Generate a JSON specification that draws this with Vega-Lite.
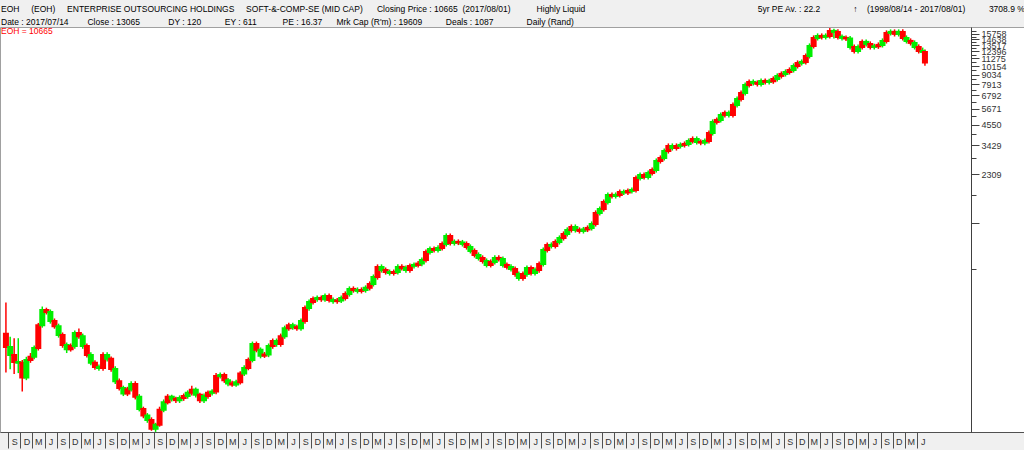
{
"$schema": "https://vega.github.io/schema/vega-lite/v6.json",
"width": 1024, "height": 405,
"autosize": {"type": "none"},
"padding": {"left": 0, "top": 27, "right": 0, "bottom": 18},
"background": "#f0f0f0",
"config": {"view": {"fill": "#ffffff", "stroke": "#a0a0a0"}, "font": "Liberation Sans"},
"title": {
  "text": ["EOH\u00a0\u00a0\u00a0\u00a0\u00a0(EOH)\u00a0\u00a0\u00a0\u00a0\u00a0ENTERPRISE OUTSOURCING HOLDINGS\u00a0\u00a0\u00a0\u00a0\u00a0SOFT-&-COMP-SE (MID CAP)\u00a0\u00a0\u00a0\u00a0\u00a0\u00a0Closing Price : 10665\u00a0\u00a0(2017/08/01)\u00a0\u00a0\u00a0\u00a0\u00a0\u00a0\u00a0\u00a0\u00a0\u00a0\u00a0Highly Liquid\u00a0\u00a0\u00a0\u00a0\u00a0\u00a0\u00a0\u00a0\u00a0\u00a0\u00a0\u00a0\u00a0\u00a0\u00a0\u00a0\u00a0\u00a0\u00a0\u00a0\u00a0\u00a0\u00a0\u00a0\u00a0\u00a0\u00a0\u00a0\u00a0\u00a0\u00a0\u00a0\u00a0\u00a0\u00a0\u00a0\u00a0\u00a0\u00a0\u00a0\u00a0\u00a0\u00a0\u00a0\u00a0\u00a0\u00a0\u00a0\u00a0\u00a0\u00a0\u00a0\u00a0\u00a0\u00a0\u00a0\u00a0\u00a0\u00a0\u00a0\u00a0\u00a0\u00a0\u00a0\u00a0\u00a0\u00a0\u00a0\u00a0\u00a0\u00a0\u00a0\u00a05yr PE Av. : 22.2\u00a0\u00a0\u00a0\u00a0\u00a0\u00a0\u00a0\u00a0\u00a0\u00a0\u00a0\u00a0\u00a0\u00a0\u2191\u00a0\u00a0\u00a0\u00a0(1998/08/14 - 2017/08/01)\u00a0\u00a0\u00a0\u00a0\u00a0\u00a0\u00a0\u00a0\u00a0\u00a03708.9 %",
           "Date : 2017/07/14\u00a0\u00a0\u00a0\u00a0\u00a0\u00a0\u00a0\u00a0Close : 13065\u00a0\u00a0\u00a0\u00a0\u00a0\u00a0\u00a0\u00a0\u00a0\u00a0\u00a0\u00a0DY : 120\u00a0\u00a0\u00a0\u00a0\u00a0\u00a0\u00a0\u00a0\u00a0\u00a0EY : 611\u00a0\u00a0\u00a0\u00a0\u00a0\u00a0\u00a0\u00a0\u00a0\u00a0\u00a0PE : 16.37\u00a0\u00a0\u00a0\u00a0\u00a0\u00a0Mrk Cap (R'm) : 19609\u00a0\u00a0\u00a0\u00a0\u00a0\u00a0\u00a0\u00a0\u00a0\u00a0Deals : 1087\u00a0\u00a0\u00a0\u00a0\u00a0\u00a0\u00a0\u00a0\u00a0\u00a0\u00a0\u00a0\u00a0\u00a0Daily (Rand)"],
  "subtitle": "EOH = 10665",
  "anchor": "start", "frame": "group", "orient": "top", "offset": -8, "dx": 1,
  "font": "Liberation Sans", "fontSize": 8.5, "fontWeight": "normal", "color": "#000000", "lineHeight": 13,
  "subtitleFont": "Liberation Sans", "subtitleFontSize": 8.5, "subtitleColor": "#ff0000", "subtitlePadding": 0
},
"data": {"values": [
{"d":"1998-08-14","o":260,"h":400,"l":153,"c":217},
{"d":"1998-09-15","o":195,"h":250,"l":160,"c":217},
{"d":"1998-10-15","o":195,"h":245,"l":150,"c":177},
{"d":"1998-11-15","o":175,"h":245,"l":152,"c":177},
{"d":"1998-12-15","o":175,"h":182,"l":118,"c":143},
{"d":"1999-01-15","o":143,"h":190,"l":138,"c":182},
{"d":"1999-02-15","o":190,"h":200,"l":175,"c":182},
{"d":"1999-03-15","o":190,"h":222,"l":184,"c":214},
{"d":"1999-04-15","o":293,"h":302,"l":207,"c":214},
{"d":"1999-05-15","o":293,"h":378,"l":283,"c":361},
{"d":"1999-06-15","o":361,"h":372,"l":339,"c":351},
{"d":"1999-07-15","o":310,"h":363,"l":299,"c":351},
{"d":"1999-08-15","o":310,"h":321,"l":279,"c":289},
{"d":"1999-09-15","o":256,"h":299,"l":247,"c":289},
{"d":"1999-10-15","o":256,"h":265,"l":215,"c":223},
{"d":"1999-11-15","o":211,"h":231,"l":200,"c":223},
{"d":"1999-12-15","o":220,"h":228,"l":204,"c":211},
{"d":"2000-01-15","o":220,"h":272,"l":212,"c":263},
{"d":"2000-02-15","o":263,"h":280,"l":243,"c":252},
{"d":"2000-03-15","o":220,"h":261,"l":212,"c":252},
{"d":"2000-04-15","o":220,"h":228,"l":188,"c":195},
{"d":"2000-05-15","o":175,"h":202,"l":169,"c":195},
{"d":"2000-06-15","o":175,"h":181,"l":159,"c":165},
{"d":"2000-07-15","o":163,"h":171,"l":157,"c":165},
{"d":"2000-08-15","o":195,"h":202,"l":157,"c":163},
{"d":"2000-09-15","o":185,"h":202,"l":178,"c":195},
{"d":"2000-10-15","o":185,"h":191,"l":155,"c":161},
{"d":"2000-11-15","o":136,"h":167,"l":131,"c":161},
{"d":"2000-12-15","o":136,"h":141,"l":120,"c":124},
{"d":"2001-01-15","o":115,"h":128,"l":111,"c":124},
{"d":"2001-02-15","o":122,"h":126,"l":111,"c":115},
{"d":"2001-03-15","o":122,"h":136,"l":118,"c":131},
{"d":"2001-04-15","o":131,"h":136,"l":106,"c":110},
{"d":"2001-05-15","o":93,"h":114,"l":90,"c":110},
{"d":"2001-06-15","o":93,"h":96,"l":82,"c":85},
{"d":"2001-07-15","o":80,"h":88,"l":77,"c":85},
{"d":"2001-08-15","o":80,"h":83,"l":69,"c":71},
{"d":"2001-09-15","o":71,"h":77,"l":68,"c":75},
{"d":"2001-10-15","o":92,"h":96,"l":73,"c":75},
{"d":"2001-11-15","o":92,"h":106,"l":89,"c":102},
{"d":"2001-12-15","o":110,"h":114,"l":99,"c":102},
{"d":"2002-01-15","o":107,"h":113,"l":103,"c":110},
{"d":"2002-02-15","o":107,"h":110,"l":101,"c":105},
{"d":"2002-03-15","o":105,"h":112,"l":101,"c":108},
{"d":"2002-04-15","o":111,"h":115,"l":104,"c":108},
{"d":"2002-05-15","o":111,"h":120,"l":107,"c":116},
{"d":"2002-06-15","o":121,"h":128,"l":112,"c":116},
{"d":"2002-07-15","o":113,"h":125,"l":109,"c":121},
{"d":"2002-08-15","o":113,"h":116,"l":101,"c":105},
{"d":"2002-09-15","o":105,"h":115,"l":101,"c":111},
{"d":"2002-10-15","o":116,"h":120,"l":107,"c":111},
{"d":"2002-11-15","o":116,"h":122,"l":112,"c":118},
{"d":"2002-12-15","o":146,"h":152,"l":114,"c":118},
{"d":"2003-01-15","o":146,"h":153,"l":141,"c":148},
{"d":"2003-02-15","o":148,"h":153,"l":133,"c":138},
{"d":"2003-03-15","o":132,"h":142,"l":127,"c":138},
{"d":"2003-04-15","o":132,"h":137,"l":126,"c":130},
{"d":"2003-05-15","o":130,"h":139,"l":126,"c":134},
{"d":"2003-06-15","o":151,"h":156,"l":130,"c":134},
{"d":"2003-07-15","o":151,"h":169,"l":146,"c":163},
{"d":"2003-08-15","o":182,"h":188,"l":158,"c":163},
{"d":"2003-09-15","o":182,"h":234,"l":176,"c":226},
{"d":"2003-10-15","o":226,"h":234,"l":202,"c":209},
{"d":"2003-11-15","o":193,"h":216,"l":186,"c":209},
{"d":"2003-12-15","o":196,"h":203,"l":187,"c":193},
{"d":"2004-01-15","o":196,"h":228,"l":189,"c":220},
{"d":"2004-02-15","o":236,"h":244,"l":212,"c":220},
{"d":"2004-03-15","o":226,"h":244,"l":218,"c":236},
{"d":"2004-04-15","o":252,"h":261,"l":218,"c":226},
{"d":"2004-05-15","o":252,"h":291,"l":243,"c":281},
{"d":"2004-06-15","o":293,"h":303,"l":271,"c":281},
{"d":"2004-07-15","o":285,"h":303,"l":275,"c":293},
{"d":"2004-08-15","o":285,"h":295,"l":271,"c":281},
{"d":"2004-09-15","o":281,"h":321,"l":271,"c":310},
{"d":"2004-10-15","o":370,"h":383,"l":299,"c":310},
{"d":"2004-11-15","o":370,"h":416,"l":357,"c":402},
{"d":"2004-12-15","o":419,"h":434,"l":388,"c":402},
{"d":"2005-01-15","o":419,"h":440,"l":404,"c":425},
{"d":"2005-02-15","o":425,"h":440,"l":403,"c":418},
{"d":"2005-03-15","o":418,"h":452,"l":403,"c":437},
{"d":"2005-04-15","o":437,"h":452,"l":399,"c":413},
{"d":"2005-05-15","o":407,"h":427,"l":393,"c":413},
{"d":"2005-06-15","o":410,"h":424,"l":393,"c":407},
{"d":"2005-07-15","o":410,"h":440,"l":396,"c":425},
{"d":"2005-08-15","o":449,"h":465,"l":410,"c":425},
{"d":"2005-09-15","o":449,"h":498,"l":433,"c":481},
{"d":"2005-10-15","o":481,"h":498,"l":457,"c":474},
{"d":"2005-11-15","o":468,"h":491,"l":452,"c":474},
{"d":"2005-12-15","o":474,"h":491,"l":452,"c":468},
{"d":"2006-01-15","o":474,"h":505,"l":457,"c":488},
{"d":"2006-02-15","o":515,"h":533,"l":471,"c":488},
{"d":"2006-03-15","o":515,"h":586,"l":497,"c":566},
{"d":"2006-04-15","o":650,"h":673,"l":546,"c":566},
{"d":"2006-05-15","o":623,"h":673,"l":601,"c":650},
{"d":"2006-06-15","o":623,"h":645,"l":585,"c":606},
{"d":"2006-07-15","o":598,"h":627,"l":577,"c":606},
{"d":"2006-08-15","o":606,"h":627,"l":577,"c":598},
{"d":"2006-09-15","o":606,"h":673,"l":585,"c":650},
{"d":"2006-10-15","o":650,"h":673,"l":619,"c":641},
{"d":"2006-11-15","o":623,"h":663,"l":601,"c":641},
{"d":"2006-12-15","o":659,"h":682,"l":601,"c":623},
{"d":"2007-01-15","o":659,"h":691,"l":636,"c":668},
{"d":"2007-02-15","o":680,"h":704,"l":645,"c":668},
{"d":"2007-03-15","o":680,"h":740,"l":656,"c":715},
{"d":"2007-04-15","o":798,"h":826,"l":690,"c":715},
{"d":"2007-05-15","o":798,"h":860,"l":770,"c":831},
{"d":"2007-06-15","o":831,"h":860,"l":791,"c":820},
{"d":"2007-07-15","o":820,"h":873,"l":791,"c":843},
{"d":"2007-08-15","o":890,"h":921,"l":814,"c":843},
{"d":"2007-09-15","o":890,"h":1028,"l":859,"c":993},
{"d":"2007-10-15","o":993,"h":1028,"l":870,"c":902},
{"d":"2007-11-15","o":902,"h":947,"l":870,"c":915},
{"d":"2007-12-15","o":915,"h":947,"l":876,"c":908},
{"d":"2008-01-15","o":890,"h":940,"l":859,"c":908},
{"d":"2008-02-15","o":890,"h":921,"l":824,"c":854},
{"d":"2008-03-15","o":809,"h":884,"l":781,"c":854},
{"d":"2008-04-15","o":809,"h":837,"l":739,"c":766},
{"d":"2008-05-15","o":735,"h":793,"l":709,"c":766},
{"d":"2008-06-15","o":735,"h":761,"l":680,"c":705},
{"d":"2008-07-15","o":668,"h":730,"l":645,"c":705},
{"d":"2008-08-15","o":696,"h":720,"l":645,"c":668},
{"d":"2008-09-15","o":696,"h":761,"l":672,"c":735},
{"d":"2008-10-15","o":735,"h":761,"l":700,"c":725},
{"d":"2008-11-15","o":668,"h":750,"l":645,"c":725},
{"d":"2008-12-15","o":668,"h":691,"l":627,"c":650},
{"d":"2009-01-15","o":632,"h":673,"l":610,"c":650},
{"d":"2009-02-15","o":632,"h":654,"l":569,"c":590},
{"d":"2009-03-15","o":558,"h":611,"l":538,"c":590},
{"d":"2009-04-15","o":590,"h":611,"l":538,"c":558},
{"d":"2009-05-15","o":590,"h":663,"l":569,"c":641},
{"d":"2009-06-15","o":641,"h":663,"l":577,"c":598},
{"d":"2009-07-15","o":598,"h":645,"l":577,"c":623},
{"d":"2009-08-15","o":677,"h":701,"l":601,"c":623},
{"d":"2009-09-15","o":677,"h":849,"l":653,"c":820},
{"d":"2009-10-15","o":878,"h":909,"l":791,"c":820},
{"d":"2009-11-15","o":866,"h":909,"l":836,"c":878},
{"d":"2009-12-15","o":915,"h":947,"l":836,"c":866},
{"d":"2010-01-15","o":915,"h":1000,"l":883,"c":966},
{"d":"2010-02-15","o":1021,"h":1057,"l":932,"c":966},
{"d":"2010-03-15","o":1021,"h":1116,"l":985,"c":1078},
{"d":"2010-04-15","o":1123,"h":1162,"l":1040,"c":1078},
{"d":"2010-05-15","o":1078,"h":1162,"l":1040,"c":1123},
{"d":"2010-06-15","o":1078,"h":1116,"l":1026,"c":1063},
{"d":"2010-07-15","o":1063,"h":1123,"l":1026,"c":1085},
{"d":"2010-08-15","o":1108,"h":1147,"l":1047,"c":1085},
{"d":"2010-09-15","o":1108,"h":1211,"l":1069,"c":1170},
{"d":"2010-10-15","o":1360,"h":1408,"l":1129,"c":1170},
{"d":"2010-11-15","o":1360,"h":1486,"l":1312,"c":1436},
{"d":"2010-12-15","o":1580,"h":1635,"l":1386,"c":1436},
{"d":"2011-01-15","o":1580,"h":1801,"l":1525,"c":1740},
{"d":"2011-02-15","o":1740,"h":1801,"l":1656,"c":1716},
{"d":"2011-03-15","o":1716,"h":1801,"l":1656,"c":1740},
{"d":"2011-04-15","o":1813,"h":1876,"l":1679,"c":1740},
{"d":"2011-05-15","o":1800,"h":1876,"l":1737,"c":1813},
{"d":"2011-06-15","o":1838,"h":1902,"l":1737,"c":1800},
{"d":"2011-07-15","o":1838,"h":1928,"l":1774,"c":1863},
{"d":"2011-08-15","o":2195,"h":2272,"l":1798,"c":1863},
{"d":"2011-09-15","o":2195,"h":2367,"l":2118,"c":2287},
{"d":"2011-10-15","o":2287,"h":2367,"l":2147,"c":2225},
{"d":"2011-11-15","o":2225,"h":2433,"l":2147,"c":2351},
{"d":"2011-12-15","o":2449,"h":2535,"l":2269,"c":2351},
{"d":"2012-01-15","o":2449,"h":2867,"l":2363,"c":2770},
{"d":"2012-02-15","o":2887,"h":2988,"l":2673,"c":2770},
{"d":"2012-03-15","o":2887,"h":3288,"l":2786,"c":3177},
{"d":"2012-04-15","o":3402,"h":3521,"l":3066,"c":3177},
{"d":"2012-05-15","o":3310,"h":3521,"l":3194,"c":3402},
{"d":"2012-06-15","o":3402,"h":3521,"l":3194,"c":3310},
{"d":"2012-07-15","o":3402,"h":3570,"l":3283,"c":3449},
{"d":"2012-08-15","o":3496,"h":3618,"l":3328,"c":3449},
{"d":"2012-09-15","o":3496,"h":3770,"l":3374,"c":3643},
{"d":"2012-10-15","o":3745,"h":3876,"l":3515,"c":3643},
{"d":"2012-11-15","o":3593,"h":3876,"l":3467,"c":3745},
{"d":"2012-12-15","o":3593,"h":3719,"l":3435,"c":3560},
{"d":"2013-01-15","o":3560,"h":3770,"l":3435,"c":3643},
{"d":"2013-02-15","o":4065,"h":4207,"l":3515,"c":3643},
{"d":"2013-03-15","o":4065,"h":4890,"l":3923,"c":4725},
{"d":"2013-04-15","o":4856,"h":5026,"l":4560,"c":4725},
{"d":"2013-05-15","o":4856,"h":5382,"l":4686,"c":5200},
{"d":"2013-06-15","o":5344,"h":5531,"l":5018,"c":5200},
{"d":"2013-07-15","o":5200,"h":5531,"l":5018,"c":5344},
{"d":"2013-08-15","o":5963,"h":6172,"l":5018,"c":5200},
{"d":"2013-09-15","o":5963,"h":6700,"l":5754,"c":6473},
{"d":"2013-10-15","o":7027,"h":7273,"l":6246,"c":6473},
{"d":"2013-11-15","o":7027,"h":8114,"l":6781,"c":7840},
{"d":"2013-12-15","o":8168,"h":8454,"l":7566,"c":7840},
{"d":"2014-01-15","o":8057,"h":8454,"l":7775,"c":8168},
{"d":"2014-02-15","o":8057,"h":8339,"l":7670,"c":7948},
{"d":"2014-03-15","o":7948,"h":8571,"l":7670,"c":8281},
{"d":"2014-04-15","o":8281,"h":8571,"l":7882,"c":8168},
{"d":"2014-05-15","o":8168,"h":8539,"l":7882,"c":8250},
{"d":"2014-06-15","o":8510,"h":8808,"l":7961,"c":8250},
{"d":"2014-07-15","o":8510,"h":9177,"l":8212,"c":8867},
{"d":"2014-08-15","o":9112,"h":9431,"l":8557,"c":8867},
{"d":"2014-09-15","o":9112,"h":9693,"l":8793,"c":9365},
{"d":"2014-10-15","o":9625,"h":9962,"l":9037,"c":9365},
{"d":"2014-11-15","o":9625,"h":10523,"l":9288,"c":10167},
{"d":"2014-12-15","o":10593,"h":10964,"l":9811,"c":10167},
{"d":"2015-01-15","o":10593,"h":11115,"l":10222,"c":10739},
{"d":"2015-02-15","o":11658,"h":12066,"l":10363,"c":10739},
{"d":"2015-03-15","o":11658,"h":13836,"l":11250,"c":13368},
{"d":"2015-04-15","o":14917,"h":15439,"l":12900,"c":13368},
{"d":"2015-05-15","o":14917,"h":15868,"l":14395,"c":15331},
{"d":"2015-06-15","o":15331,"h":15868,"l":14594,"c":15123},
{"d":"2015-07-15","o":15123,"h":15868,"l":14594,"c":15331},
{"d":"2015-08-15","o":16417,"h":17100,"l":14794,"c":15331},
{"d":"2015-09-15","o":16194,"h":16900,"l":14800,"c":16417},
{"d":"2015-10-15","o":16194,"h":16761,"l":14594,"c":15123},
{"d":"2015-11-15","o":14917,"h":15652,"l":14395,"c":15123},
{"d":"2015-12-15","o":14917,"h":15439,"l":14282,"c":14800},
{"d":"2016-01-15","o":13187,"h":15318,"l":12725,"c":14800},
{"d":"2016-02-15","o":13187,"h":13649,"l":12046,"c":12483},
{"d":"2016-03-15","o":12483,"h":13649,"l":12046,"c":13187},
{"d":"2016-04-15","o":14120,"h":14614,"l":12725,"c":13187},
{"d":"2016-05-15","o":13739,"h":14614,"l":13258,"c":14120},
{"d":"2016-06-15","o":13739,"h":14220,"l":12725,"c":13187},
{"d":"2016-07-15","o":13187,"h":13766,"l":12725,"c":13300},
{"d":"2016-08-15","o":13553,"h":14027,"l":12835,"c":13300},
{"d":"2016-09-15","o":13553,"h":14816,"l":13079,"c":14315},
{"d":"2016-10-15","o":15974,"h":16533,"l":13814,"c":14315},
{"d":"2016-11-15","o":15974,"h":16761,"l":15415,"c":16194},
{"d":"2016-12-15","o":16194,"h":16761,"l":15206,"c":15758},
{"d":"2017-01-15","o":15758,"h":16761,"l":15206,"c":16194},
{"d":"2017-02-15","o":16194,"h":16761,"l":14395,"c":14917},
{"d":"2017-03-15","o":14315,"h":15439,"l":13814,"c":14917},
{"d":"2017-04-15","o":14315,"h":14816,"l":13441,"c":13929},
{"d":"2017-05-15","o":13187,"h":14416,"l":12725,"c":13929},
{"d":"2017-06-15","o":13187,"h":13649,"l":12046,"c":12483},
{"d":"2017-07-15","o":12313,"h":13065,"l":11882,"c":12483},
{"d":"2017-08-01","o":12313,"h":12744,"l":10200,"c":10665}
]},
"encoding": {
  "x": {"field": "d", "type": "temporal",
    "scale": {"type": "utc", "nice": false, "domain": [{"year":1998,"month":8,"date":7,"utc":true},{"year":2019,"month":7,"date":11,"utc":true}]},
    "axis": {"orient": "bottom", "title": null, "grid": false,
      "values": [
{"year":1998,"month":9,"date":1,"utc":true},{"year":1998,"month":12,"date":1,"utc":true},
{"year":1999,"month":3,"date":1,"utc":true},{"year":1999,"month":6,"date":1,"utc":true},{"year":1999,"month":9,"date":1,"utc":true},{"year":1999,"month":12,"date":1,"utc":true},
{"year":2000,"month":3,"date":1,"utc":true},{"year":2000,"month":6,"date":1,"utc":true},{"year":2000,"month":9,"date":1,"utc":true},{"year":2000,"month":12,"date":1,"utc":true},
{"year":2001,"month":3,"date":1,"utc":true},{"year":2001,"month":6,"date":1,"utc":true},{"year":2001,"month":9,"date":1,"utc":true},{"year":2001,"month":12,"date":1,"utc":true},
{"year":2002,"month":3,"date":1,"utc":true},{"year":2002,"month":6,"date":1,"utc":true},{"year":2002,"month":9,"date":1,"utc":true},{"year":2002,"month":12,"date":1,"utc":true},
{"year":2003,"month":3,"date":1,"utc":true},{"year":2003,"month":6,"date":1,"utc":true},{"year":2003,"month":9,"date":1,"utc":true},{"year":2003,"month":12,"date":1,"utc":true},
{"year":2004,"month":3,"date":1,"utc":true},{"year":2004,"month":6,"date":1,"utc":true},{"year":2004,"month":9,"date":1,"utc":true},{"year":2004,"month":12,"date":1,"utc":true},
{"year":2005,"month":3,"date":1,"utc":true},{"year":2005,"month":6,"date":1,"utc":true},{"year":2005,"month":9,"date":1,"utc":true},{"year":2005,"month":12,"date":1,"utc":true},
{"year":2006,"month":3,"date":1,"utc":true},{"year":2006,"month":6,"date":1,"utc":true},{"year":2006,"month":9,"date":1,"utc":true},{"year":2006,"month":12,"date":1,"utc":true},
{"year":2007,"month":3,"date":1,"utc":true},{"year":2007,"month":6,"date":1,"utc":true},{"year":2007,"month":9,"date":1,"utc":true},{"year":2007,"month":12,"date":1,"utc":true},
{"year":2008,"month":3,"date":1,"utc":true},{"year":2008,"month":6,"date":1,"utc":true},{"year":2008,"month":9,"date":1,"utc":true},{"year":2008,"month":12,"date":1,"utc":true},
{"year":2009,"month":3,"date":1,"utc":true},{"year":2009,"month":6,"date":1,"utc":true},{"year":2009,"month":9,"date":1,"utc":true},{"year":2009,"month":12,"date":1,"utc":true},
{"year":2010,"month":3,"date":1,"utc":true},{"year":2010,"month":6,"date":1,"utc":true},{"year":2010,"month":9,"date":1,"utc":true},{"year":2010,"month":12,"date":1,"utc":true},
{"year":2011,"month":3,"date":1,"utc":true},{"year":2011,"month":6,"date":1,"utc":true},{"year":2011,"month":9,"date":1,"utc":true},{"year":2011,"month":12,"date":1,"utc":true},
{"year":2012,"month":3,"date":1,"utc":true},{"year":2012,"month":6,"date":1,"utc":true},{"year":2012,"month":9,"date":1,"utc":true},{"year":2012,"month":12,"date":1,"utc":true},
{"year":2013,"month":3,"date":1,"utc":true},{"year":2013,"month":6,"date":1,"utc":true},{"year":2013,"month":9,"date":1,"utc":true},{"year":2013,"month":12,"date":1,"utc":true},
{"year":2014,"month":3,"date":1,"utc":true},{"year":2014,"month":6,"date":1,"utc":true},{"year":2014,"month":9,"date":1,"utc":true},{"year":2014,"month":12,"date":1,"utc":true},
{"year":2015,"month":3,"date":1,"utc":true},{"year":2015,"month":6,"date":1,"utc":true},{"year":2015,"month":9,"date":1,"utc":true},{"year":2015,"month":12,"date":1,"utc":true},
{"year":2016,"month":3,"date":1,"utc":true},{"year":2016,"month":6,"date":1,"utc":true},{"year":2016,"month":9,"date":1,"utc":true},{"year":2016,"month":12,"date":1,"utc":true},
{"year":2017,"month":3,"date":1,"utc":true},{"year":2017,"month":6,"date":1,"utc":true}
      ],
      "labelExpr": "substring(utcFormat(datum.value, '%b'), 0, 1)",
      "tickSize": 16, "tickColor": "#505050", "domainColor": "#505050",
      "labelAlign": "center", "labelOffset": 6, "labelBaseline": "middle", "labelPadding": -7,
      "labelFont": "Liberation Sans", "labelFontSize": 9, "labelColor": "#333333",
      "labelOverlap": false, "labelBound": false, "labelFlush": false}
  },
  "color": {"condition": {"test": "datum.c >= datum.o", "value": "#00ee00"}, "value": "#ff0000"}
},
"layer": [
  {"mark": {"type": "rule", "strokeWidth": 1.5},
   "encoding": {
     "y": {"field": "l", "type": "quantitative",
       "scale": {"type": "log", "domain": [67.9, 17314], "nice": false, "zero": false},
       "axis": {"orient": "right", "offset": -53, "title": null, "grid": false,
         "values": [15758,14638,13517,12396,11275,10154,9034,7913,6792,5671,4550,3429,2309,1188],
         "labelExpr": "datum.value == 1188 ? '' : '' + datum.value",
         "tickSize": 8, "tickColor": "#404040", "domainColor": "#404040",
         "labelPadding": 2, "labelBaseline": "middle", "labelFont": "Liberation Sans", "labelFontSize": 9, "labelColor": "#333333",
         "labelOverlap": false, "labelBound": false, "labelFlush": false}},
     "y2": {"field": "h"}
   }},
  {"mark": {"type": "bar", "width": 4, "strokeWidth": 2},
   "encoding": {
     "y": {"field": "o", "type": "quantitative",
       "axis": {"orient": "right", "offset": -53, "title": null, "grid": false, "labels": false, "domain": false,
         "values": [16318,15198,14078,12957,11836,10715,9594,8474,7353,6232,5111,3990,2869,1749,628],
         "tickSize": 5, "tickColor": "#404040"}},
     "y2": {"field": "c"},
     "stroke": {"condition": {"test": "datum.c >= datum.o", "value": "#00ee00"}, "value": "#ff0000"}
   }}
],
"resolve": {"axis": {"y": "independent"}}
}
